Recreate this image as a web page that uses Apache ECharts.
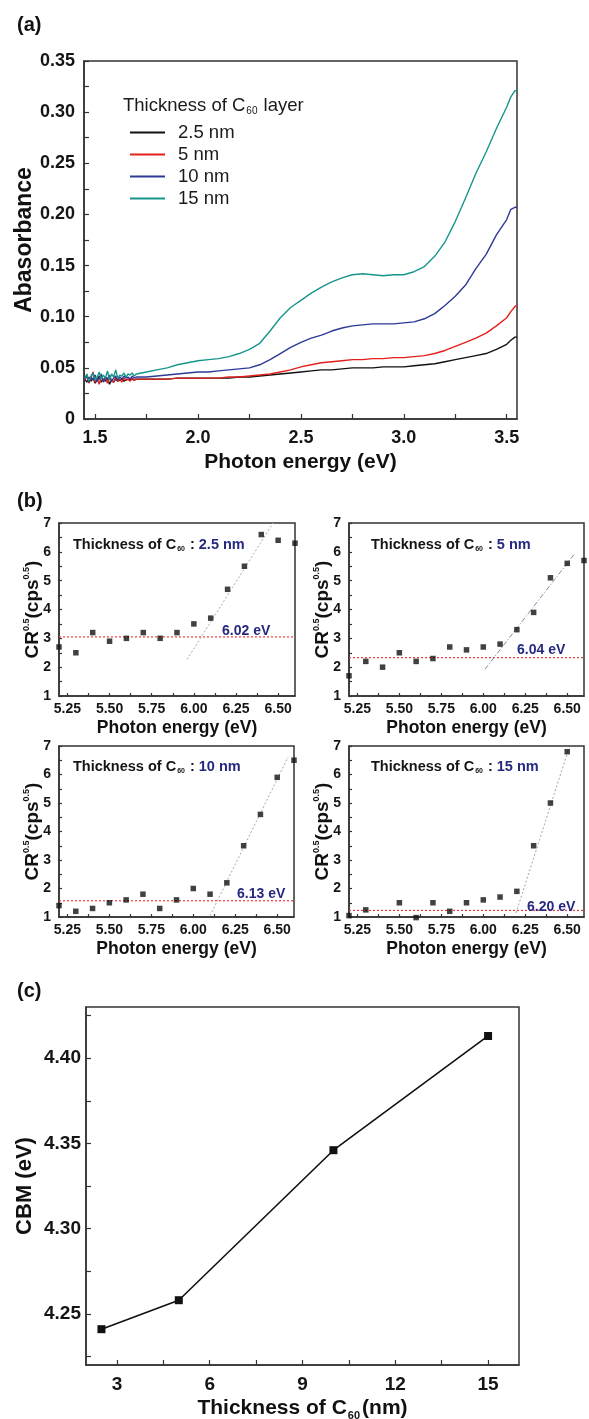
<!DOCTYPE html>
<html>
<head>
<meta charset="utf-8">
<title>C60 absorbance / CR / CBM</title>
<style>
  html, body { margin: 0; padding: 0; background: #fff; }
  #main { width: 589px; height: 1419px; }
</style>
</head>
<body>
<div id="main"></div>
<script src="https://cdn.jsdelivr.net/npm/echarts@6/dist/echarts.min.js"></script>
<script>
// ---- (a) absorbance spectra ----
var energy = [1.45, 1.46, 1.47, 1.48, 1.49, 1.50, 1.51, 1.52, 1.53, 1.54, 1.55, 1.56, 1.57,
  1.58, 1.59, 1.60, 1.61, 1.62, 1.63, 1.64, 1.65, 1.66, 1.67, 1.68, 1.69, 1.70,
  1.75, 1.80, 1.85, 1.90, 1.95, 2.00, 2.05, 2.10, 2.15, 2.20, 2.25, 2.30, 2.35, 2.40,
  2.45, 2.50, 2.55, 2.60, 2.65, 2.70, 2.75, 2.80, 2.85, 2.90, 2.95, 3.00, 3.05, 3.10,
  3.15, 3.20, 3.25, 3.30, 3.35, 3.40, 3.45, 3.50, 3.52, 3.54, 3.55];

var abs25 = [0.039, 0.036, 0.041, 0.037, 0.040, 0.035, 0.038, 0.042, 0.036, 0.039, 0.037, 0.040, 0.034,
  0.038, 0.036, 0.039, 0.037, 0.038, 0.039, 0.037, 0.038, 0.039, 0.038, 0.039, 0.038, 0.039,
  0.039, 0.039, 0.039, 0.040, 0.040, 0.040, 0.040, 0.040, 0.040, 0.041, 0.041, 0.042, 0.043, 0.044,
  0.045, 0.046, 0.047, 0.048, 0.048, 0.049, 0.050, 0.050, 0.050, 0.051, 0.051, 0.051, 0.052, 0.053,
  0.054, 0.056, 0.058, 0.060, 0.062, 0.064, 0.068, 0.073, 0.077, 0.080, 0.080];

var abs5 = [0.038, 0.043, 0.035, 0.040, 0.046, 0.036, 0.039, 0.034, 0.042, 0.037, 0.041, 0.035, 0.040,
  0.038, 0.036, 0.041, 0.037, 0.039, 0.036, 0.040, 0.038, 0.039, 0.037, 0.040, 0.038, 0.039,
  0.039, 0.039, 0.039, 0.040, 0.040, 0.040, 0.040, 0.040, 0.041, 0.041, 0.042, 0.043, 0.044, 0.046,
  0.048, 0.051, 0.053, 0.055, 0.056, 0.057, 0.058, 0.058, 0.059, 0.059, 0.060, 0.060, 0.061, 0.062,
  0.064, 0.067, 0.071, 0.075, 0.079, 0.084, 0.091, 0.099, 0.105, 0.110, 0.111];

var abs10 = [0.039, 0.042, 0.036, 0.041, 0.038, 0.043, 0.037, 0.040, 0.044, 0.036, 0.041, 0.039, 0.043,
  0.037, 0.040, 0.042, 0.038, 0.041, 0.039, 0.042, 0.040, 0.041, 0.039, 0.042, 0.040, 0.041,
  0.041, 0.042, 0.043, 0.044, 0.045, 0.046, 0.046, 0.047, 0.048, 0.049, 0.050, 0.053, 0.058, 0.064,
  0.070, 0.075, 0.079, 0.082, 0.086, 0.089, 0.091, 0.092, 0.093, 0.093, 0.093, 0.094, 0.095, 0.098,
  0.103, 0.111, 0.120, 0.131, 0.147, 0.161, 0.180, 0.195, 0.205, 0.207, 0.207];

var abs15 = [0.040, 0.044, 0.037, 0.042, 0.045, 0.038, 0.041, 0.046, 0.039, 0.043, 0.040, 0.047, 0.038,
  0.044, 0.041, 0.048, 0.040, 0.043, 0.042, 0.045, 0.041, 0.044, 0.043, 0.045, 0.042, 0.044,
  0.046, 0.048, 0.050, 0.053, 0.055, 0.057, 0.058, 0.059, 0.061, 0.064, 0.068, 0.074, 0.086, 0.099,
  0.109, 0.116, 0.123, 0.129, 0.134, 0.138, 0.141, 0.142, 0.141, 0.140, 0.141, 0.141, 0.144, 0.149,
  0.159, 0.173, 0.193, 0.216, 0.240, 0.261, 0.284, 0.305, 0.315, 0.321, 0.321];

var legendNames = ['2.5 nm', '5 nm', '10 nm', '15 nm'];
var lineColors = ['#111111', '#e3201c', '#2e3a96', '#17958d'];

// ---- (b) CR^0.5 vs photon energy ----
var pe15 = [5.2, 5.3, 5.4, 5.5, 5.6, 5.7, 5.8, 5.9, 6.0, 6.1, 6.2, 6.3, 6.4, 6.5, 6.6];
var cr25 = [2.7, 2.5, 3.2, 2.9, 3.0, 3.2, 3.0, 3.2, 3.5, 3.7, 4.7, 5.5, 6.6, 6.4, 6.3];
var cr5 = [1.7, 2.2, 2.0, 2.5, 2.2, 2.3, 2.7, 2.6, 2.7, 2.8, 3.3, 3.9, 5.1, 5.6, 5.7];
var cr10 = [1.4, 1.2, 1.3, 1.5, 1.6, 1.8, 1.3, 1.6, 2.0, 1.8, 2.2, 3.5, 4.6, 5.9, 6.5];
var pe13 = [5.2, 5.3, 5.5, 5.6, 5.7, 5.8, 5.9, 6.0, 6.1, 6.2, 6.3, 6.4, 6.5];
var cr15 = [1.05, 1.25, 1.5, 0.98, 1.5, 1.2, 1.5, 1.6, 1.7, 1.9, 3.5, 5.0, 6.8];

var baseLevels = [3.05, 2.33, 1.57, 1.23];
var fitLines = [
  [[5.96, 2.27], [6.47, 7.0]],
  [[6.01, 1.93], [6.545, 5.94]],
  [[6.10, 1.05], [6.565, 6.62]],
  [[6.195, 1.14], [6.506, 6.85]]
];
var thickLabels = ['2.5 nm', '5 nm', '10 nm', '15 nm'];
var onsetLabels = ['6.02 eV', '6.04 eV', '6.13 eV', '6.20 eV'];

// ---- (c) CBM vs thickness ----
var thickness = [2.5, 5, 10, 15];
var cbm = [4.241, 4.258, 4.346, 4.413];

var FONT = 'Liberation Sans, Arial, sans-serif';
var NAVY = '#252a80';

var chart = echarts.init(document.getElementById('main'));

function axisBase(fontSize, labelMargin) {
  return {
    nameMoveOverlap: false,
    axisLine: { show: true, lineStyle: { color: '#333', width: 1.5 } },
    axisTick: { show: true, inside: true, length: 5, lineStyle: { color: '#333', width: 1.2 } },
    axisLabel: { color: '#151515', fontWeight: 'bold', fontSize: fontSize, fontFamily: FONT, margin: labelMargin },
    splitLine: { show: false }
  };
}

function steps(from, to, step) {
  var out = [];
  for (var v = from; v <= to + 1e-9; v += step) out.push(+v.toFixed(4));
  return out;
}

var grids = [
  { left: 84, top: 61, width: 433, height: 358 },
  { left: 59, top: 523, width: 236, height: 173 },
  { left: 349, top: 523, width: 235, height: 173 },
  { left: 59, top: 746, width: 235, height: 171 },
  { left: 349, top: 746, width: 235, height: 171 },
  { left: 86, top: 1007, width: 433, height: 358 }
];
grids.forEach(function (g) {
  g.show = true;
  g.borderColor = '#333';
  g.borderWidth = 1.5;
  g.backgroundColor = 'transparent';
  g.containLabel = false;
  g.outerBoundsMode = 'none';
});

var xAxes = [], yAxes = [];

// (a)
var ax = axisBase(18, 10);
xAxes.push(Object.assign(ax, {
  type: 'value', gridIndex: 0, min: 1.446, max: 3.55,
  name: 'Photon energy (eV)', nameLocation: 'middle', nameGap: 33,
  nameTextStyle: { fontFamily: FONT, fontWeight: 'bold', fontSize: 21, color: '#111' }
}));
ax.axisLabel.customValues = [1.5, 2.0, 2.5, 3.0, 3.5];
ax.axisLabel.formatter = function (v) { return v.toFixed(1); };
ax.axisTick.customValues = steps(1.5, 3.5, 0.25);

var ay = axisBase(18, 9);
yAxes.push(Object.assign(ay, {
  type: 'value', gridIndex: 0, min: 0, max: 0.35,
  name: 'Abasorbance', nameLocation: 'middle', nameGap: 48,
  nameTextStyle: { fontFamily: FONT, fontWeight: 'bold', fontSize: 23, color: '#111' }
}));
ay.axisLabel.customValues = steps(0, 0.35, 0.05);
ay.axisLabel.formatter = function (v) { return v === 0 ? '0' : v.toFixed(2); };
ay.axisTick.customValues = steps(0, 0.35, 0.025);

// (b) four small panels
for (var i = 0; i < 4; i++) {
  var bx = axisBase(14, 6);
  bx.axisTick.length = 3;
  xAxes.push(Object.assign(bx, {
    type: 'value', gridIndex: i + 1, min: 5.2, max: 6.6,
    name: 'Photon energy (eV)', nameLocation: 'middle', nameGap: 23,
    nameTextStyle: { fontFamily: FONT, fontWeight: 'bold', fontSize: 17.5, color: '#111' }
  }));
  bx.axisLabel.customValues = [5.25, 5.5, 5.75, 6.0, 6.25, 6.5];
  bx.axisLabel.formatter = function (v) { return v.toFixed(2); };
  bx.axisTick.customValues = steps(5.25, 6.5, 0.125);

  var by = axisBase(14, 8);
  by.axisTick.length = 3;
  yAxes.push(Object.assign(by, {
    type: 'value', gridIndex: i + 1, min: 1, max: 7,
    name: '{b|CR}{p|0.5}{b|(cps}{p|0.5}{b|)}', nameLocation: 'middle', nameGap: 15,
    nameTextStyle: {
      rich: {
        b: { fontFamily: FONT, fontWeight: 'bold', fontSize: 19, color: '#111', lineHeight: 22 },
        p: { fontFamily: FONT, fontWeight: 'bold', fontSize: 9, color: '#111', verticalAlign: 'top', lineHeight: 22 }
      }
    }
  }));
  by.axisLabel.customValues = [1, 2, 3, 4, 5, 6, 7];
  by.axisTick.customValues = steps(1, 7, 0.5);
}

// (c)
var cx = axisBase(19, 10);
xAxes.push(Object.assign(cx, {
  type: 'value', gridIndex: 5, min: 2, max: 16,
  name: '{b|Thickness of C}{s|60}{b|(nm)}', nameLocation: 'middle', nameGap: 30,
  nameTextStyle: {
    rich: {
      b: { fontFamily: FONT, fontWeight: 'bold', fontSize: 21, color: '#111', lineHeight: 26 },
      s: { fontFamily: FONT, fontWeight: 'bold', fontSize: 11, color: '#111', verticalAlign: 'bottom', lineHeight: 26, padding: [0, 2, 0, 1] }
    }
  }
}));
cx.axisLabel.customValues = [3, 6, 9, 12, 15];
cx.axisTick.customValues = steps(3, 15, 1.5);

var cy = axisBase(19, 5);
yAxes.push(Object.assign(cy, {
  type: 'value', gridIndex: 5, min: 4.22, max: 4.43,
  name: 'CBM (eV)', nameLocation: 'middle', nameGap: 50,
  nameTextStyle: { fontFamily: FONT, fontWeight: 'bold', fontSize: 22, color: '#111' }
}));
cy.axisLabel.customValues = [4.25, 4.30, 4.35, 4.40];
cy.axisLabel.formatter = function (v) { return v.toFixed(2); };
cy.axisTick.customValues = steps(4.225, 4.425, 0.025);

// ---- series ----
var series = [];
var absSets = [abs25, abs5, abs10, abs15];
absSets.forEach(function (vals, k) {
  series.push({
    name: legendNames[k], type: 'line', xAxisIndex: 0, yAxisIndex: 0,
    data: energy.map(function (e, j) { return [e, vals[j]]; }),
    showSymbol: false, symbol: 'none', smooth: false,
    lineStyle: { color: lineColors[k], width: 1.4 },
    itemStyle: { color: lineColors[k] },
    z: 2 + k, animation: false
  });
});

var crSets = [
  { x: pe15, y: cr25 }, { x: pe15, y: cr5 }, { x: pe15, y: cr10 }, { x: pe13, y: cr15 }
];
crSets.forEach(function (set, k) {
  // red dotted background level
  series.push({
    type: 'line', xAxisIndex: k + 1, yAxisIndex: k + 1,
    data: [[5.2, baseLevels[k]], [6.6, baseLevels[k]]], showSymbol: false, symbol: 'none',
    lineStyle: { color: '#f03a3a', width: 1.2, type: [2, 2] },
    silent: true, animation: false, z: 2
  });
  // linear fit of the rising edge
  series.push({
    type: 'line', xAxisIndex: k + 1, yAxisIndex: k + 1,
    data: fitLines[k], showSymbol: false, symbol: 'none',
    lineStyle: { color: k === 1 ? '#7c8aa8' : '#a8a8a8', width: 1, type: k === 1 ? [5, 2, 1, 2] : [2, 2] },
    silent: true, animation: false, z: 2
  });
  series.push({
    type: 'scatter', xAxisIndex: k + 1, yAxisIndex: k + 1,
    data: set.x.map(function (e, j) { return [e, set.y[j]]; }),
    symbol: 'rect', symbolSize: 5.5, clip: false,
    itemStyle: { color: '#111' },
    animation: false, z: 4
  });
});

series.push({
  type: 'line', xAxisIndex: 5, yAxisIndex: 5,
  data: thickness.map(function (t, j) { return [t, cbm[j]]; }),
  symbol: 'rect', symbolSize: 8, showSymbol: true,
  lineStyle: { color: '#111', width: 1.6 },
  itemStyle: { color: '#111' },
  animation: false
});

// ---- texts ----
function panelTag(text, top) {
  return { text: text, left: 12, top: top, textStyle: { fontFamily: FONT, fontWeight: 'bold', fontSize: 20, color: '#111' } };
}

var titles = [
  panelTag('(a)', 10),
  panelTag('(b)', 486),
  panelTag('(c)', 976),
  {
    text: '{n|Thickness of C}{s|60}{n| layer}', left: 118, top: 90,
    textStyle: {
      fontWeight: 'normal',
      rich: {
        n: { fontFamily: FONT, fontWeight: 'normal', fontSize: 18.5, color: '#1a1a1a', lineHeight: 21 },
        s: { fontFamily: FONT, fontWeight: 'normal', fontSize: 10, color: '#1a1a1a', verticalAlign: 'bottom', lineHeight: 21, padding: [0, 1, 0, 1] }
      }
    }
  }
];

var thickPos = [[68, 531], [366, 531], [68, 753], [366, 753]];
var onsetPos = [[217, 619], [512, 638], [232, 882], [522, 895]];
for (var m = 0; m < 4; m++) {
  titles.push({
    text: '{b|Thickness of C}{s|60}{b| : }{v|' + thickLabels[m] + '}',
    left: thickPos[m][0], top: thickPos[m][1],
    textStyle: {
      rich: {
        b: { fontFamily: FONT, fontWeight: 'bold', fontSize: 14.5, color: '#151515', lineHeight: 17 },
        s: { fontFamily: FONT, fontWeight: 'bold', fontSize: 7, color: '#151515', verticalAlign: 'bottom', lineHeight: 17, padding: [0, 1, 0, 1] },
        v: { fontFamily: FONT, fontWeight: 'bold', fontSize: 14.5, color: NAVY, lineHeight: 17 }
      }
    }
  });
  titles.push({
    text: onsetLabels[m], left: onsetPos[m][0], top: onsetPos[m][1],
    textStyle: { fontFamily: FONT, fontWeight: 'bold', fontSize: 14, color: NAVY }
  });
}

chart.setOption({
  animation: false,
  backgroundColor: '#fff',
  title: titles,
  legend: {
    data: legendNames, orient: 'vertical', left: 130, top: 123, padding: 0,
    icon: 'rect', itemWidth: 35, itemHeight: 2, itemGap: 3,
    textStyle: { fontFamily: FONT, fontSize: 18.5, color: '#1a1a1a', padding: [0, 0, 0, 8] },
    selectedMode: false
  },
  grid: grids,
  xAxis: xAxes,
  yAxis: yAxes,
  series: series
});
</script>
</body>
</html>
